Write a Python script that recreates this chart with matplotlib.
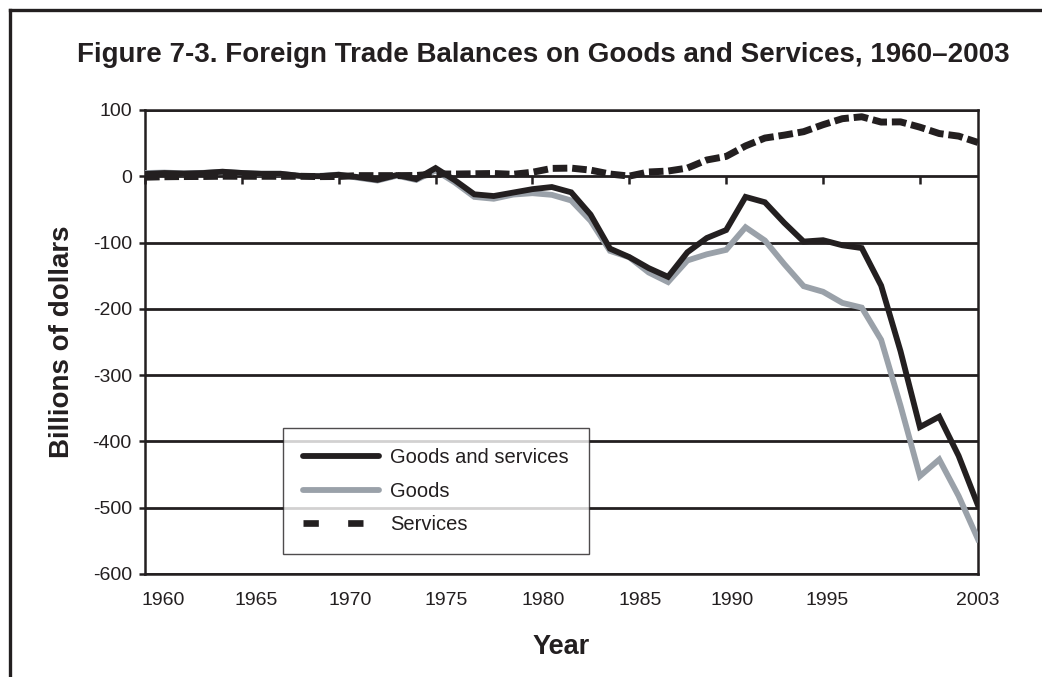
import matplotlib.pyplot as plt
from matplotlib.lines import Line2D

plt.rcParams['font.family'] = ['Liberation Sans', 'DejaVu Sans']
plt.rcParams['axes.unicode_minus'] = False

years = list(range(1960, 2004))

# Balance on goods and services, billions of dollars
goods_services = [3.5, 4.9, 4.1, 4.9, 6.9, 5.0, 3.8, 3.8, 0.6, 0.1,
                  2.3, -1.3, -5.4, 1.9, -4.3, 12.4, -6.1, -27.2, -29.8, -24.6,
                  -19.4, -16.2, -24.2, -57.8, -109.1, -121.9, -138.5, -151.7, -114.6, -93.1,
                  -81.1, -31.1, -39.2, -70.3, -98.5, -96.4, -104.1, -108.3, -164.9, -263.8,
                  -378.3, -362.7, -421.7, -496.5]

goods = [4.9, 5.6, 4.5, 5.2, 6.8, 5.0, 3.8, 3.8, 0.6, 0.6,
         2.6, -2.3, -6.4, 0.9, -5.5, 8.9, -9.5, -31.1, -33.9, -27.6,
         -25.5, -28.0, -36.5, -67.1, -112.5, -122.2, -145.1, -159.6, -127.0, -117.7,
         -111.0, -76.9, -96.9, -132.5, -165.8, -174.2, -191.0, -198.1, -246.7, -346.0,
         -452.4, -427.2, -482.3, -547.6]

services = [-1.4, -0.7, -0.4, -0.3, 0.1, 0.0, 0.0, 0.0, 0.0, -0.5,
            -0.3, 1.0, 1.0, 1.0, 1.2, 3.5, 3.4, 3.8, 4.2, 3.0,
            6.1, 11.9, 12.3, 9.3, 3.4, 0.3, 6.5, 7.9, 12.4, 24.6,
            30.0, 45.8, 57.7, 62.1, 67.3, 77.8, 86.9, 89.8, 81.8, 82.1,
            74.1, 64.5, 60.6, 51.0]

series_names = ['Goods and services', 'Goods', 'Services']

tick_years = [1960, 1965, 1970, 1975, 1980, 1985, 1990, 1995, 2000]
label_text = ['1960', '1965', '1970', '1975', '1980', '1985', '1990', '1995', '2003']
label_pos = [1960.93, 1965.73, 1970.58, 1975.54, 1980.55, 1985.55, 1990.30, 1995.21, 2003.0]

ink = '#231f20'
gray = '#9aa1a9'

fig = plt.figure(figsize=(10.42, 6.77), dpi=100)
ax = fig.add_axes([145 / 1042, 1 - 574 / 677, 833 / 1042, 464 / 677])

ax.plot(years, goods_services, color=ink, lw=4.2, solid_joinstyle='miter', zorder=4)
ax.plot(years, goods, color=gray, lw=4.2, solid_joinstyle='miter', zorder=3)
ax.plot(years, services, color=ink, lw=5.0, dashes=(2.1, 0.7),
        dash_capstyle='butt', zorder=5)

ax.set_xlim(1960, 2003)
ax.set_ylim(-600, 100)
ax.set_yticks(range(-600, 101, 100))
ax.yaxis.grid(True, color=ink, lw=2.0)
ax.set_axisbelow(True)

for side in ['left', 'right', 'top', 'bottom']:
    ax.spines[side].set_color(ink)
    ax.spines[side].set_linewidth(1.8)

ax.tick_params(axis='y', direction='out', length=4.5, width=1.8, color=ink,
               labelsize=14, labelcolor=ink, pad=5)

# year labels sit below the frame, the tick marks hang off the zero line
ax.set_xticks(label_pos)
ax.set_xticklabels(label_text)
ax.tick_params(axis='x', length=0, labelsize=14, labelcolor=ink, pad=13)

zero_axis = ax.secondary_xaxis(6 / 7)
zero_axis.set_alignment('bottom')
zero_axis.set_xticks(tick_years)
zero_axis.tick_params(axis='x', direction='out', length=6, width=1.8, color=ink,
                      labelbottom=False, labeltop=False)
zero_axis.spines['bottom'].set_visible(False)

# legend keys: wider spacing on the dashed key than on the plotted line
handles = [
    Line2D([], [], color=ink, lw=4.2, solid_capstyle='round'),
    Line2D([], [], color=gray, lw=4.2, solid_capstyle='round'),
    Line2D([], [], color=ink, lw=4.8, dashes=(2.3, 4.4), dash_capstyle='butt'),
]
leg = ax.legend(handles, series_names, loc='upper left',
                bbox_to_anchor=(138 / 833, 146 / 464),
                fontsize=14.5, frameon=True, fancybox=False, edgecolor=ink,
                handlelength=3.75, handletextpad=0.55, labelspacing=0.72,
                borderpad=1.0, borderaxespad=0)
leg.get_frame().set_linewidth(1.0)
for t in leg.get_texts():
    t.set_color(ink)

fig.text(543 / 1042, 1 - 55 / 677,
         'Figure 7-3. Foreign Trade Balances on Goods and Services, 1960\u20132003',
         ha='center', va='center', fontsize=20, fontweight='bold', color=ink)
fig.text(561 / 1042, 1 - 647 / 677, 'Year', ha='center', va='center',
         fontsize=19.5, fontweight='bold', color=ink)
fig.text(62 / 1042, 1 - 342 / 677, 'Billions of dollars', ha='center', va='center',
         rotation=90, fontsize=20, fontweight='bold', color=ink)

# outer frame, open at the right and bottom edges
fig.add_artist(Line2D([10 / 1042, 1.0], [1 - 10 / 677, 1 - 10 / 677],
                      transform=fig.transFigure, color=ink, lw=2.4))
fig.add_artist(Line2D([10 / 1042, 10 / 1042], [0.0, 1 - 10 / 677],
                      transform=fig.transFigure, color=ink, lw=2.4))

fig.savefig('out.png', dpi=100)
